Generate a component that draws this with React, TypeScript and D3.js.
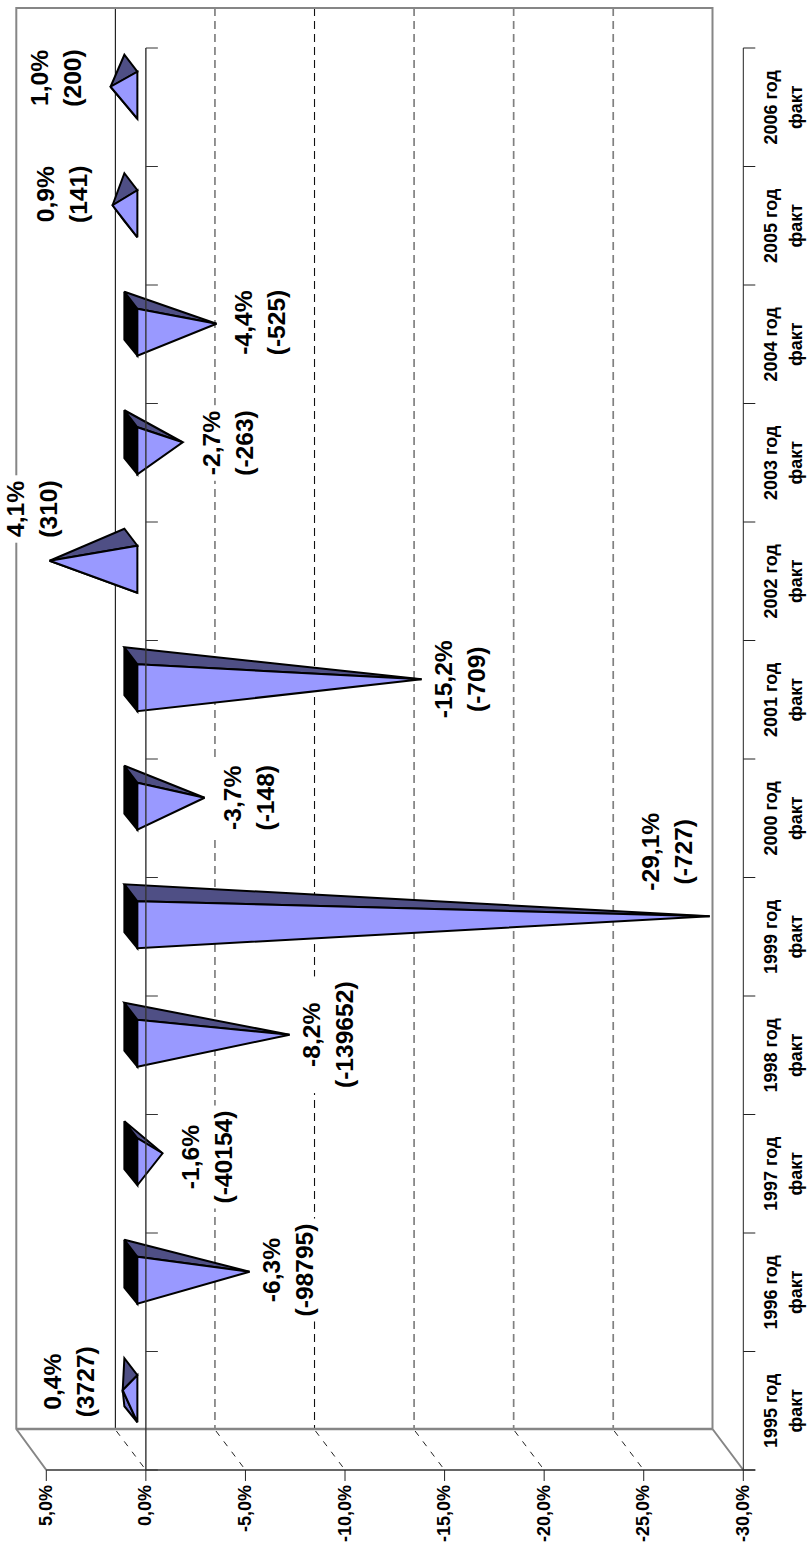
import React from "react";
import * as d3 from "d3";

const categories = ["1995 год","1996 год","1997 год","1998 год","1999 год","2000 год","2001 год","2002 год","2003 год","2004 год","2005 год","2006 год"];
const subLabel = "факт";
// values as plotted (read from the pyramid tips)
const plottedValues = [0.41,-5.96,-1.59,-7.97,-29.07,-3.7,-14.6,4.08,-2.6,-4.3,0.92,1.02];
const percentLabels = ["0,4%","-6,3%","-1,6%","-8,2%","-29,1%","-3,7%","-15,2%","4,1%","-2,7%","-4,4%","0,9%","1,0%"];
const absoluteLabels = ["(3727)","(-98795)","(-40154)","(-139652)","(-727)","(-148)","(-709)","(310)","(-263)","(-525)","(141)","(200)"];
const valueTicks = [5,0,-5,-10,-15,-20,-25,-30];
const tickLabels = ["5,0%","0,0%","-5,0%","-10,0%","-15,0%","-20,0%","-25,0%","-30,0%"];

// manual label placement (offset of label block centre from the pyramid apex)
const labelDx = [-45,47,53,47,-34,53,46.5,-9.5,54,51.5,-42.5,-46.5];
const labelDy = [-8.5,-1.75,3.75,0,-64.5,0,0,-51.75,0.75,-1.25,-11,-8.75];

const xs = d3.scaleLinear().domain([5,-30]).range([46.3,743.3]);
const ys = d3.scaleBand<number>().domain(d3.range(12)).range([1470,48]).paddingInner(0).paddingOuter(0);
const DX = 30, DY = 41, WALL_TOP = 8, WALL_BOTTOM = 1429, WALL_RIGHT = 712.5;
const LIGHT = "#9999ff", DARK = "#4f4f85", WALL = "#868686";
const FS = 24.6, LINE_GAP = 16.5;

const charW = (s: string) => Array.from(s).reduce((a,c)=>a+(c==="%"?0.889:c===","?0.278:c==="("||c===")"||c==="-"?0.333:0.556),0);
const pts = (p: number[][]) => p.map(q=>q.join(",")).join(" ");

export default function App() {
  const zeroX = xs(0);
  return (
    <svg width={808} height={1544} style={{position:"absolute",left:0,top:0,display:"block",background:"#fff"}} fontFamily="'Liberation Sans', Arial, sans-serif" fontWeight="bold">
      {/* back wall gridlines */}
      {valueTicks.slice(1,-1).map(v=>{
        const x = xs(v)-DX-0.5;
        const strong = v===0||v===-10;
        return <g key={v}>
          <line x1={x} x2={x} y1={WALL_TOP} y2={WALL_BOTTOM} stroke={strong?"#111":"#808080"} strokeWidth={strong?1.1:1.7} strokeDasharray={v===0?undefined:"8 5"}/>
          <line x1={x+1} y1={WALL_BOTTOM+2} x2={xs(v)} y2={1470} stroke="#222" strokeWidth={1} strokeDasharray="6 7"/>
        </g>;
      })}
      {/* walls */}
      <path d={`M${xs(5)},1470 L${xs(5)-DX},${WALL_BOTTOM} V${WALL_TOP} H${WALL_RIGHT} V${WALL_BOTTOM} L${xs(-30)},1470`} fill="none" stroke={WALL} strokeWidth={2}/>
      <line x1={xs(5)-DX} x2={WALL_RIGHT} y1={WALL_BOTTOM} y2={WALL_BOTTOM} stroke={WALL} strokeWidth={2.6}/>
      {/* label backgrounds */}
      {categories.map((_,i)=>{
        const cx = xs(plottedValues[i])-DX/2+labelDx[i];
        const cy = ys(i)!+ys.bandwidth()/2-DY/2+labelDy[i];
        const w = Math.max(charW(percentLabels[i]),charW(absoluteLabels[i]))*FS+10;
        return <rect key={i} x={cx-44} y={cy-w/2} width={74} height={w} fill="#fff"/>;
      })}
      {/* pyramids */}
      {plottedValues.map((v,i)=>{
        const c = ys(i)!+ys.bandwidth()/2-DY/2;
        const bx = zeroX-DX/2;
        const ax = xs(v)-DX/2;
        const apex=[ax,c];
        const bt=[bx-6.5,c-32], bb=[bx-6.5,c+16], ft=[bx+6.5,c-15], fb=[bx+6.5,c+32];
        const common={stroke:"#000",strokeWidth:2,strokeLinejoin:"miter" as const,strokeMiterlimit:3};
        return <g key={i}>
          {v>0 && <polygon points={pts([apex,bb,fb])} fill="#7373cc" {...common}/>}
          {v<0 && <polygon points={pts([bt,bb,fb,ft])} fill="#000" {...common}/>}
          <polygon points={pts([apex,bt,ft])} fill={DARK} {...common}/>
          <polygon points={pts([apex,ft,fb])} fill={LIGHT} {...common}/>
        </g>;
      })}
      {/* category axes */}
      {[zeroX,xs(-30)].map((x,k)=><g key={k} stroke={k===0?"#333":"#222"}>
        <line x1={x} x2={x} y1={48} y2={1470} strokeWidth={k===0?1.4:1}/>
        {d3.range(13).map(j=>{const y=j===12?48:ys(j)!+ys.bandwidth();return <line key={j} x1={x} x2={x+12} y1={y} y2={y} strokeWidth={1}/>;})}
      </g>)}
      {/* value axis */}
      <line x1={xs(5)} x2={xs(-30)+12} y1={1470} y2={1470} stroke="#333" strokeWidth={1.6}/>
      {valueTicks.map(v=><line key={v} x1={xs(v)} x2={xs(v)} y1={1470} y2={1481} stroke="#222" strokeWidth={1}/>)}
      {tickLabels.map((t,i)=><text key={t} transform={`translate(${xs(valueTicks[i])+5.5},1485) rotate(-90)`} fontSize={18} textAnchor="end" fill="#000">{t}</text>)}
      {/* category labels */}
      {categories.map((c,i)=>{
        const y=ys(i)!+ys.bandwidth()/2;
        return <g key={c} fontSize={18} fill="#000" textAnchor="middle">
          <text transform={`translate(777,${y}) rotate(-90)`}>{c}</text>
          <text transform={`translate(801.5,${y}) rotate(-90)`}>{subLabel}</text>
        </g>;
      })}
      {/* data labels */}
      {plottedValues.map((v,i)=>{
        const cx = xs(v)-DX/2+labelDx[i];
        const cy = ys(i)!+ys.bandwidth()/2-DY/2+labelDy[i];
        return <g key={i} fontSize={FS} fill="#000" textAnchor="middle">
          <text transform={`translate(${cx-LINE_GAP},${cy}) rotate(-90)`}>{percentLabels[i]}</text>
          <text transform={`translate(${cx+LINE_GAP},${cy}) rotate(-90)`}>{absoluteLabels[i]}</text>
        </g>;
      })}
    </svg>
  );
}
